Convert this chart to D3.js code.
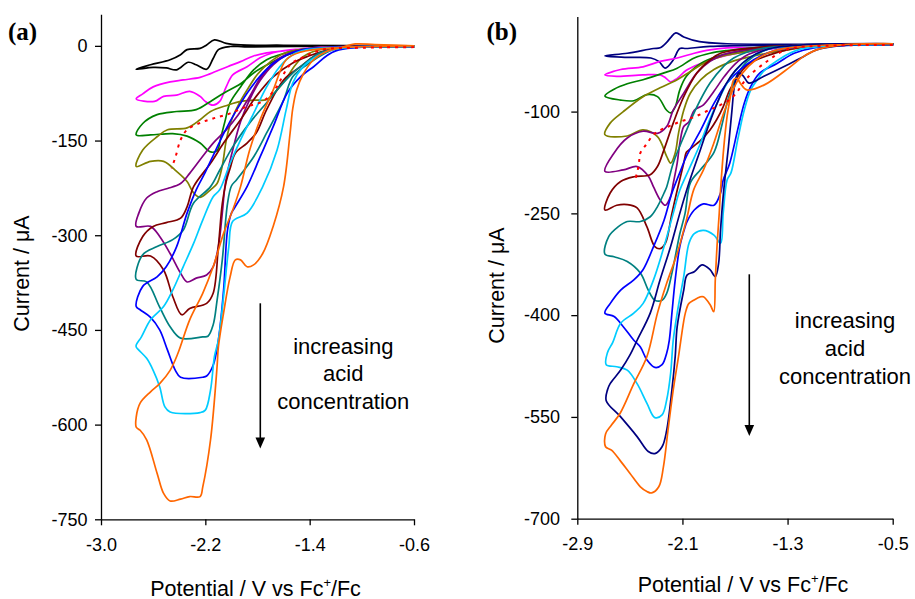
<!DOCTYPE html>
<html><head><meta charset="utf-8">
<script src="https://cdn.jsdelivr.net/npm/d3@7"></script>
<style>
body{margin:0;background:#fff}
svg{display:block}
text{font-family:"Liberation Sans",Arial,Helvetica,sans-serif;fill:#000}
text.plabel{font-family:"Liberation Serif","Times New Roman",Times,serif;font-weight:bold}
</style>
</head><body>
<svg id="c" width="915" height="599"></svg>
<script>
// ---------- DATA: panel (a)  [potential V, current uA] ----------
const aXTicks = [-3.0, -2.2, -1.4, -0.6];
const aYTicks = [-750, -600, -450, -300, -150, 0];
const a_black = [[-0.6,-1],[-1.5,-1],[-1.9,-1.5],[-2.01,-1],[-2.1,-6],[-2.14,-20],[-2.19,-37],[-2.27,-30],[-2.33,-26],[-2.42,-38],[-2.5,-35],[-2.6,-34],[-2.73,-37],[-2.62,-30],[-2.47,-22],[-2.39,-14],[-2.34,-6],[-2.24,-4],[-2.19,1.5],[-2.13,9.5],[-2.04,4],[-1.93,1.5],[-1.6,1],[-0.6,0]];
const a_magenta = [[-0.6,-1],[-1.3,-2],[-1.47,-5],[-1.58,-7],[-1.68,-11],[-1.78,-19],[-1.88,-33],[-1.99,-46],[-2.04,-65],[-2.09,-88],[-2.14,-94],[-2.2,-88],[-2.24,-80],[-2.32,-72],[-2.42,-78],[-2.52,-80],[-2.59,-88],[-2.73,-84],[-2.68,-76],[-2.6,-65],[-2.47,-57],[-2.37,-54],[-2.24,-50],[-2.16,-44],[-2.03,-33],[-1.93,-25],[-1.83,-16],[-1.73,-11],[-1.6,-8],[-1.3,-3],[-0.6,-1]];
const a_green = [[-0.6,-1],[-1.3,-3],[-1.5,-7],[-1.63,-14],[-1.73,-22],[-1.83,-38],[-1.93,-65],[-2.01,-90],[-2.05,-120],[-2.08,-144],[-2.11,-166],[-2.16,-168],[-2.24,-154],[-2.34,-143],[-2.45,-139],[-2.62,-141],[-2.73,-141],[-2.68,-123],[-2.57,-109],[-2.42,-104],[-2.27,-101],[-2.16,-88],[-2.06,-75],[-1.93,-60],[-1.81,-40],[-1.68,-25],[-1.58,-15],[-1.47,-8],[-1.2,-3],[-0.6,-1]];
const a_olive = [[-0.6,-1],[-1.2,-2],[-1.45,-5],[-1.6,-12],[-1.7,-25],[-1.8,-45],[-1.88,-70],[-1.95,-95],[-2.0,-118],[-2.04,-150],[-2.07,-190],[-2.11,-218],[-2.16,-228],[-2.24,-240],[-2.29,-233],[-2.34,-215],[-2.42,-199],[-2.52,-183],[-2.62,-183],[-2.73,-191],[-2.68,-165],[-2.57,-144],[-2.49,-133],[-2.34,-130],[-2.24,-117],[-2.16,-104],[-2.03,-94],[-1.93,-88],[-1.83,-86],[-1.73,-85],[-1.65,-70],[-1.57,-49],[-1.52,-33],[-1.45,-17],[-1.37,-9],[-1.2,-3],[-0.6,-1]];
const a_purple = [[-0.6,-1],[-1.2,-2],[-1.45,-6],[-1.58,-15],[-1.68,-30],[-1.78,-55],[-1.86,-85],[-1.93,-120],[-1.99,-165],[-2.03,-200],[-2.05,-223],[-2.07,-265],[-2.1,-318],[-2.14,-350],[-2.19,-363],[-2.27,-368],[-2.34,-374],[-2.39,-360],[-2.47,-329],[-2.55,-302],[-2.62,-286],[-2.73,-286],[-2.71,-265],[-2.65,-241],[-2.57,-231],[-2.49,-226],[-2.39,-218],[-2.32,-202],[-2.22,-175],[-2.14,-154],[-2.04,-133],[-1.95,-110],[-1.86,-80],[-1.76,-45],[-1.65,-22],[-1.5,-8],[-1.2,-2],[-0.6,-1]];
const a_maroon = [[-0.6,-1],[-1.2,-3],[-1.37,-17],[-1.47,-33],[-1.6,-54],[-1.73,-101],[-1.81,-138],[-1.88,-154],[-1.97,-170],[-2.01,-194],[-2.04,-215],[-2.07,-250],[-2.1,-318],[-2.14,-392],[-2.19,-408],[-2.32,-416],[-2.38,-426],[-2.45,-397],[-2.52,-355],[-2.62,-333],[-2.73,-333],[-2.68,-302],[-2.6,-286],[-2.5,-280],[-2.39,-273],[-2.34,-255],[-2.29,-223],[-2.16,-186],[-2.06,-154],[-1.93,-117],[-1.81,-80],[-1.68,-49],[-1.53,-27],[-1.42,-17],[-1.2,-4],[-0.6,0]];
const a_teal = [[-0.6,-1],[-1.2,-5],[-1.42,-30],[-1.53,-49],[-1.6,-86],[-1.73,-138],[-1.83,-176],[-1.96,-212],[-2.0,-222],[-2.03,-250],[-2.07,-339],[-2.11,-403],[-2.14,-442],[-2.18,-460],[-2.22,-461],[-2.39,-463],[-2.47,-445],[-2.55,-414],[-2.65,-374],[-2.73,-370],[-2.68,-331],[-2.57,-318],[-2.45,-307],[-2.37,-292],[-2.29,-249],[-2.16,-223],[-2.09,-197],[-1.99,-160],[-1.86,-122],[-1.73,-90],[-1.63,-65],[-1.53,-43],[-1.42,-25],[-1.32,-11],[-1.1,-3],[-0.6,0]];
const a_blue = [[-0.6,-1],[-1.2,-8],[-1.37,-33],[-1.47,-49],[-1.57,-74],[-1.68,-128],[-1.78,-176],[-1.88,-223],[-1.98,-258],[-2.0,-265],[-2.03,-292],[-2.06,-387],[-2.1,-466],[-2.14,-506],[-2.19,-523],[-2.22,-525],[-2.39,-525],[-2.43,-514],[-2.49,-482],[-2.55,-450],[-2.62,-430],[-2.7,-418],[-2.73,-413],[-2.68,-381],[-2.57,-366],[-2.5,-350],[-2.42,-318],[-2.34,-265],[-2.27,-228],[-2.2,-200],[-2.12,-165],[-2.05,-135],[-1.97,-105],[-1.88,-75],[-1.78,-48],[-1.68,-28],[-1.57,-14],[-1.45,-6],[-1.2,-2],[-0.6,0]];
const a_cyan = [[-0.6,-1],[-1.2,-5],[-1.35,-17],[-1.45,-33],[-1.53,-59],[-1.58,-101],[-1.65,-165],[-1.76,-223],[-1.88,-265],[-1.99,-278],[-2.02,-318],[-2.06,-397],[-2.1,-466],[-2.13,-492],[-2.16,-545],[-2.2,-577],[-2.24,-581],[-2.47,-580],[-2.51,-572],[-2.55,-540],[-2.6,-514],[-2.65,-495],[-2.71,-482],[-2.73,-477],[-2.73,-474],[-2.69,-461],[-2.62,-434],[-2.52,-413],[-2.45,-387],[-2.37,-350],[-2.29,-313],[-2.22,-276],[-2.14,-239],[-2.09,-228],[-2.01,-186],[-1.93,-149],[-1.83,-107],[-1.73,-65],[-1.63,-33],[-1.53,-14],[-1.42,-6],[-1.1,-2],[-0.6,0]];
const a_orange = [[-0.6,0],[-0.9,2],[-1.05,3],[-1.15,-2],[-1.27,-9],[-1.37,-22],[-1.45,-45],[-1.5,-70],[-1.53,-100],[-1.55,-138],[-1.6,-223],[-1.68,-286],[-1.76,-329],[-1.83,-347],[-1.88,-350],[-1.93,-339],[-1.97,-339],[-2.01,-366],[-2.06,-423],[-2.1,-477],[-2.11,-508],[-2.16,-624],[-2.22,-699],[-2.24,-714],[-2.32,-714],[-2.39,-718],[-2.47,-721],[-2.52,-709],[-2.57,-677],[-2.65,-624],[-2.7,-609],[-2.73,-604],[-2.73,-588],[-2.7,-566],[-2.62,-548],[-2.55,-535],[-2.47,-514],[-2.41,-487],[-2.32,-434],[-2.22,-392],[-2.14,-350],[-2.06,-297],[-1.99,-260],[-1.93,-223],[-1.86,-165],[-1.78,-117],[-1.68,-70],[-1.58,-22],[-1.47,-10],[-1.2,-3],[-0.6,0]];
const a_red = [[-0.6,-2],[-1.0,-3],[-1.3,-6],[-1.45,-18],[-1.55,-30],[-1.67,-70],[-1.76,-88],[-1.88,-96],[-2.01,-107],[-2.14,-115],[-2.24,-122],[-2.34,-133],[-2.39,-149],[-2.43,-177],[-2.46,-194]];

// ---------- DATA: panel (b) ----------
const bXTicks = [-2.9, -2.1, -1.3, -0.5];
const bYTicks = [-700, -550, -400, -250, -100];
const b_navy0 = [[-0.5,-1],[-1.2,-2],[-1.89,-4],[-2.07,-7],[-2.12,-7],[-2.17,-24],[-2.23,-36],[-2.28,-26],[-2.34,-21],[-2.52,-20],[-2.69,-18],[-2.52,-14],[-2.32,-7],[-2.27,-6],[-2.22,2],[-2.19,9],[-2.15,16],[-2.09,10],[-1.97,3],[-1.76,0],[-0.5,0]];
const b_magenta = [[-0.5,-1],[-1.25,-4],[-1.48,-9],[-1.68,-14],[-1.84,-21],[-1.96,-29],[-2.07,-39],[-2.14,-51],[-2.19,-56],[-2.23,-50],[-2.27,-46],[-2.4,-46],[-2.6,-48],[-2.69,-46],[-2.57,-38],[-2.4,-34],[-2.27,-26],[-2.14,-21],[-2.01,-14],[-1.89,-9],[-1.76,-6],[-1.58,-6],[-1.36,-4],[-1.1,-2],[-0.5,0]];
const b_green = [[-0.5,-1],[-1.3,-4],[-1.68,-12],[-1.84,-19],[-1.96,-29],[-2.07,-48],[-2.12,-68],[-2.155,-93],[-2.19,-102],[-2.22,-98],[-2.29,-78],[-2.37,-75],[-2.47,-84],[-2.57,-83],[-2.69,-77],[-2.62,-67],[-2.52,-59],[-2.4,-53],[-2.24,-43],[-2.14,-36],[-2.01,-21],[-1.89,-14],[-1.76,-10],[-1.5,-5],[-1.1,-2],[-0.5,0]];
const b_olive = [[-0.5,-1],[-1.1,-4],[-1.36,-11],[-1.58,-19],[-1.72,-26],[-1.86,-38],[-1.96,-53],[-2.04,-73],[-2.09,-98],[-2.13,-132],[-2.155,-161],[-2.19,-176],[-2.22,-166],[-2.29,-137],[-2.4,-127],[-2.52,-136],[-2.69,-134],[-2.65,-117],[-2.55,-100],[-2.4,-78],[-2.27,-65],[-2.14,-53],[-2.04,-41],[-1.94,-29],[-1.81,-19],[-1.68,-14],[-1.4,-6],[-1.0,-2],[-0.5,0]];
const b_purple = [[-0.5,-1],[-1.2,-2],[-1.45,-7],[-1.6,-16],[-1.7,-30],[-1.78,-48],[-1.86,-70],[-1.94,-90],[-2.01,-98],[-2.05,-115],[-2.09,-122],[-2.12,-147],[-2.14,-176],[-2.17,-206],[-2.19,-225],[-2.23,-238],[-2.27,-230],[-2.32,-211],[-2.36,-195],[-2.445,-181],[-2.55,-186],[-2.69,-188],[-2.62,-161],[-2.52,-139],[-2.4,-129],[-2.29,-132],[-2.22,-122],[-2.17,-98],[-2.09,-73],[-1.99,-43],[-1.89,-26],[-1.79,-16],[-1.5,-6],[-1.0,-2],[-0.5,0]];
const b_maroon = [[-0.5,-1],[-1.2,-5],[-1.43,-16],[-1.59,-29],[-1.66,-43],[-1.74,-68],[-1.79,-93],[-1.84,-112],[-1.89,-127],[-1.96,-142],[-2.04,-155],[-2.07,-160],[-2.09,-176],[-2.14,-216],[-2.18,-250],[-2.23,-294],[-2.27,-302],[-2.31,-299],[-2.37,-270],[-2.445,-242],[-2.52,-237],[-2.6,-238],[-2.69,-245],[-2.65,-220],[-2.57,-203],[-2.47,-196],[-2.345,-193],[-2.29,-181],[-2.24,-156],[-2.17,-117],[-2.09,-78],[-1.99,-43],[-1.89,-24],[-1.81,-14],[-1.5,-5],[-1.0,-2],[-0.5,0]];
const b_teal = [[-0.5,-1],[-1.2,-2],[-1.45,-8],[-1.6,-25],[-1.68,-45],[-1.75,-80],[-1.8,-120],[-1.86,-160],[-1.96,-185],[-2.04,-205],[-2.08,-250],[-2.12,-280],[-2.14,-299],[-2.18,-338],[-2.22,-368],[-2.255,-378],[-2.31,-378],[-2.36,-363],[-2.42,-338],[-2.52,-321],[-2.62,-314],[-2.69,-310],[-2.66,-284],[-2.59,-270],[-2.52,-262],[-2.42,-262],[-2.345,-255],[-2.29,-240],[-2.24,-220],[-2.22,-211],[-2.17,-176],[-2.09,-137],[-1.99,-93],[-1.89,-58],[-1.79,-34],[-1.71,-21],[-1.5,-7],[-1.0,-2],[-0.5,0]];
const b_blue = [[-0.5,-1],[-1.1,-6],[-1.25,-14],[-1.38,-29],[-1.51,-43],[-1.58,-63],[-1.63,-88],[-1.68,-127],[-1.74,-176],[-1.79,-201],[-1.81,-220],[-1.86,-238],[-1.94,-236],[-2.01,-245],[-2.065,-262],[-2.08,-270],[-2.12,-299],[-2.155,-348],[-2.18,-397],[-2.2,-437],[-2.22,-456],[-2.255,-473],[-2.31,-477],[-2.37,-466],[-2.42,-447],[-2.47,-437],[-2.55,-417],[-2.62,-402],[-2.69,-397],[-2.65,-383],[-2.57,-363],[-2.47,-348],[-2.4,-333],[-2.32,-299],[-2.24,-260],[-2.18,-220],[-2.12,-190],[-2.07,-166],[-1.96,-127],[-1.86,-88],[-1.76,-58],[-1.66,-38],[-1.56,-24],[-1.4,-10],[-1.0,-2],[-0.5,0]];
const b_cyan = [[-0.5,-1],[-1.2,-8],[-1.38,-25],[-1.48,-40],[-1.53,-53],[-1.58,-68],[-1.63,-98],[-1.68,-142],[-1.73,-190],[-1.76,-201],[-1.79,-250],[-1.81,-294],[-1.86,-282],[-1.94,-275],[-2.01,-280],[-2.05,-294],[-2.09,-343],[-2.14,-397],[-2.17,-437],[-2.19,-486],[-2.22,-525],[-2.255,-547],[-2.31,-551],[-2.37,-530],[-2.445,-501],[-2.52,-481],[-2.6,-476],[-2.68,-473],[-2.67,-455],[-2.63,-440],[-2.57,-412],[-2.47,-397],[-2.4,-383],[-2.32,-348],[-2.24,-299],[-2.17,-250],[-2.12,-216],[-2.05,-185],[-1.97,-150],[-1.9,-115],[-1.83,-85],[-1.76,-58],[-1.68,-36],[-1.6,-22],[-1.45,-8],[-1.1,-2],[-0.5,0]];
const b_navy2 = [[-0.5,0],[-0.9,-3],[-1.08,-9],[-1.18,-19],[-1.33,-34],[-1.48,-48],[-1.595,-58],[-1.635,-48],[-1.67,-43],[-1.7,-58],[-1.725,-102],[-1.75,-152],[-1.775,-196],[-1.79,-225],[-1.81,-274],[-1.825,-324],[-1.85,-343],[-1.89,-333],[-1.95,-326],[-2.01,-336],[-2.065,-341],[-2.09,-363],[-2.14,-417],[-2.155,-461],[-2.18,-510],[-2.22,-570],[-2.255,-594],[-2.31,-604],[-2.36,-601],[-2.445,-579],[-2.57,-550],[-2.68,-526],[-2.67,-510],[-2.65,-501],[-2.57,-481],[-2.5,-459],[-2.445,-437],[-2.345,-397],[-2.27,-348],[-2.19,-299],[-2.12,-250],[-2.05,-205],[-1.97,-160],[-1.9,-120],[-1.83,-85],[-1.77,-60],[-1.7,-40],[-1.6,-22],[-1.45,-8],[-1.2,-2],[-0.5,0]];
const b_orange = [[-0.5,0],[-0.9,-2],[-1.08,-9],[-1.18,-19],[-1.28,-34],[-1.48,-61],[-1.61,-68],[-1.66,-58],[-1.685,-51],[-1.71,-53],[-1.735,-78],[-1.76,-107],[-1.785,-152],[-1.81,-216],[-1.82,-250],[-1.837,-299],[-1.85,-348],[-1.862,-395],[-1.888,-385],[-1.94,-373],[-1.964,-373],[-2.014,-378],[-2.052,-383],[-2.078,-397],[-2.093,-412],[-2.13,-461],[-2.17,-510],[-2.21,-570],[-2.245,-624],[-2.28,-653],[-2.334,-662],[-2.37,-660],[-2.42,-653],[-2.5,-633],[-2.575,-614],[-2.64,-599],[-2.685,-594],[-2.685,-575],[-2.64,-562],[-2.575,-545],[-2.47,-501],[-2.37,-461],[-2.29,-397],[-2.22,-353],[-2.14,-309],[-2.07,-260],[-2.014,-215],[-1.94,-186],[-1.862,-147],[-1.786,-102],[-1.72,-70],[-1.65,-45],[-1.55,-25],[-1.4,-10],[-1.1,-3],[-0.5,0]];
const b_red = [[-0.5,-2],[-1.0,-3],[-1.3,-8],[-1.45,-25],[-1.61,-51],[-1.7,-75],[-1.76,-85],[-1.84,-93],[-1.9,-98],[-1.975,-105],[-2.04,-110],[-2.12,-115],[-2.18,-120],[-2.255,-126],[-2.32,-134],[-2.37,-147],[-2.42,-161],[-2.43,-174],[-2.44,-186],[-2.46,-201]];

const annotationLines = ["increasing", "acid", "concentration"];

// ---------- styles ----------
const COL = {black:"#000000", magenta:"#ff00ff", green:"#008000", olive:"#808000", purple:"#800080",
  maroon:"#800000", teal:"#008080", blue:"#0000ff", cyan:"#00ccff", orange:"#ff6600", navy:"#000080", red:"#ff0000"};

const svg = d3.select("#c");

function drawPanel(cfg) {
  const x = d3.scaleLinear().domain(cfg.xDomain).range(cfg.xRange);
  const y = d3.scaleLinear().domain(cfg.yDomain).range(cfg.yRange);
  const g = svg.append("g");

  const line = d3.line().x(d => x(d[0])).y(d => y(d[1])).curve(d3.curveCatmullRom.alpha(0.5));
  cfg.series.forEach(s => {
    g.append("path").attr("d", line(s.data)).attr("fill", "none")
      .attr("stroke", COL[s.color]).attr("stroke-width", 1.7)
      .attr("stroke-linejoin", "round").attr("stroke-linecap", "round");
  });
  g.append("path").attr("d", line(cfg.red)).attr("fill", "none")
    .attr("stroke", COL.red).attr("stroke-width", 2).attr("stroke-dasharray", "3,5");

  // axes
  const yAxis = d3.axisLeft(y).tickValues(cfg.yTicks).tickSize(6).tickSizeOuter(0)
    .tickPadding(cfg.yPad).tickFormat(d => String(d));
  const xAxis = d3.axisBottom(x).tickValues(cfg.xTicks).tickSize(6).tickSizeOuter(0)
    .tickPadding(13).tickFormat(d => d.toFixed(1));
  const ya = g.append("g").attr("transform", `translate(${cfg.xRange[0]},0)`).call(yAxis);
  const xa = g.append("g").attr("transform", `translate(0,${cfg.yRange[0]})`).call(xAxis);
  [ya, xa].forEach(a => {
    a.selectAll("path,line").attr("stroke", "#000").attr("stroke-width", 1.3);
    a.selectAll("text").attr("font-size", 18).attr("fill", "#000");
  });

  // axis titles
  const xt = g.append("text").attr("x", cfg.xTitle[0]).attr("y", cfg.xTitle[1])
    .attr("text-anchor", "middle").attr("font-size", 21.5);
  xt.append("tspan").text("Potential / V vs Fc");
  xt.append("tspan").text("+").attr("font-size", 13).attr("dy", -9);
  xt.append("tspan").text("/Fc").attr("dy", 9);
  g.append("text").attr("transform", `translate(${cfg.yTitle[0]},${cfg.yTitle[1]}) rotate(-90)`)
    .attr("text-anchor", "middle").attr("font-size", 21.5).text("Current / \u03bcA");

  // panel label
  g.append("text").attr("class", "plabel").attr("x", cfg.label[0]).attr("y", cfg.label[1])
    .attr("font-size", 25).text(cfg.labelText);

  // annotation
  annotationLines.forEach((t, i) => {
    g.append("text").attr("x", cfg.note[0]).attr("y", cfg.note[1] + i * 27.8)
      .attr("text-anchor", "middle").attr("font-size", 22).text(t);
  });
  const ax = cfg.arrow[0], ay0 = cfg.arrow[1], ay1 = cfg.arrow[2];
  g.append("line").attr("x1", ax).attr("x2", ax).attr("y1", ay0).attr("y2", ay1 - 8)
    .attr("stroke", "#000").attr("stroke-width", 1.6);
  g.append("path").attr("d", `M${ax - 4.8},${ay1 - 11} L${ax + 4.8},${ay1 - 11} L${ax},${ay1} Z`).attr("fill", "#000");
}

drawPanel({
  xDomain: [-3.0, -0.6], xRange: [101, 414],
  yDomain: [-750, 50], yRange: [519.3, 14.3],
  xTicks: aXTicks, yTicks: aYTicks, yPad: 7.5,
  series: [
    {color:"black", data:a_black}, {color:"magenta", data:a_magenta}, {color:"green", data:a_green},
    {color:"olive", data:a_olive}, {color:"purple", data:a_purple}, {color:"maroon", data:a_maroon},
    {color:"teal", data:a_teal}, {color:"blue", data:a_blue}, {color:"cyan", data:a_cyan},
    {color:"orange", data:a_orange}
  ],
  red: a_red,
  xTitle: [255.5, 595.5], yTitle: [29, 273.5],
  label: [8, 39.5], labelText: "(a)",
  note: [343.3, 353.5], arrow: [260.3, 303.3, 448.5]
});

drawPanel({
  xDomain: [-2.9, -0.5], xRange: [577.3, 892.7],
  yDomain: [-700, 40], yRange: [518.7, 16.6],
  xTicks: bXTicks, yTicks: bYTicks, yPad: 11.3,
  series: [
    {color:"navy", data:b_navy0}, {color:"magenta", data:b_magenta}, {color:"green", data:b_green},
    {color:"olive", data:b_olive}, {color:"purple", data:b_purple}, {color:"maroon", data:b_maroon},
    {color:"teal", data:b_teal}, {color:"blue", data:b_blue}, {color:"cyan", data:b_cyan},
    {color:"navy", data:b_navy2}, {color:"orange", data:b_orange}
  ],
  red: b_red,
  xTitle: [743, 591.5], yTitle: [504, 285.5],
  label: [486.5, 39.5], labelText: "(b)",
  note: [845, 328.3], arrow: [749.3, 274.3, 436]
});
</script>
</body></html>
